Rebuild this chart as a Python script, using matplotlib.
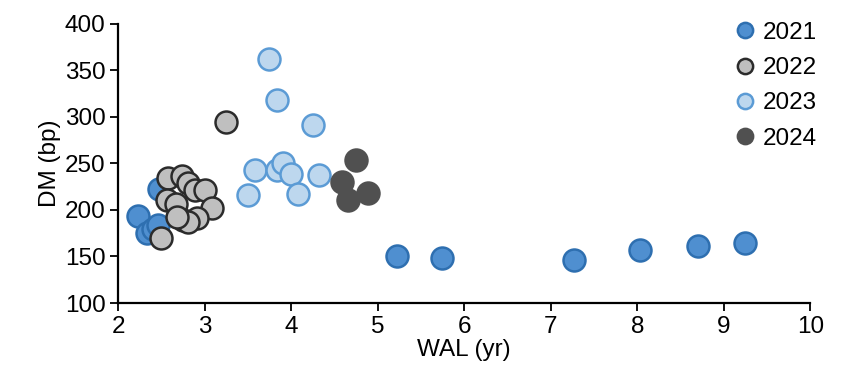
import matplotlib
matplotlib.use("Agg")
import matplotlib.pyplot as plt
from matplotlib.lines import Line2D

plt.rcParams["font.family"] = ["Liberation Sans", "DejaVu Sans"]

# WAL (yr), DM (bp) by vintage
wal_2021 = [2.23, 2.33, 2.40, 2.46, 2.47, 5.22, 5.75, 7.27, 8.03, 8.70, 9.25]
dm_2021  = [194, 175, 180, 184, 222, 151, 148, 146, 157, 161, 164]
wal_2022 = [2.58, 2.74, 2.81, 2.89, 3.00, 2.57, 2.67, 3.09, 2.75, 2.91, 2.81, 2.68, 2.50, 3.25]
dm_2022  = [234, 236, 229, 221, 221, 211, 206, 202, 189, 191, 187, 192, 170, 295]
wal_2023 = [3.75, 3.84, 4.25, 3.58, 3.84, 3.91, 4.00, 3.50, 4.08, 4.32]
dm_2023  = [362, 318, 291, 243, 243, 251, 239, 216, 217, 238]
wal_2024 = [4.75, 4.59, 4.66, 4.89]
dm_2024  = [254, 230, 211, 218]

series = [
    ("2021", wal_2021, dm_2021, "#4f8fd0", "#2e6fb0"),
    ("2022", wal_2022, dm_2022, "#bfbfbf", "#2b2b2b"),
    ("2023", wal_2023, dm_2023, "#bdd7ee", "#5b9bd5"),
    ("2024", wal_2024, dm_2024, "#505050", "#505050"),
]

fig = plt.figure(figsize=(8.52, 3.91), dpi=100)
ax = fig.add_axes([0.1385, 0.225, 0.8125, 0.714])

handles = []
for name, xs, ys, fc, ec in series:
    ax.scatter(xs, ys, s=250, c=fc, edgecolors=ec, linewidths=1.8, zorder=3)
    handles.append(Line2D([], [], marker="o", ls="", markersize=11,
                          markerfacecolor=fc, markeredgecolor=ec, markeredgewidth=1.8, label=name))

ax.set_xlim(2, 10)
ax.set_ylim(100, 400)
ax.set_xticks(range(2, 11))
ax.set_yticks(range(100, 401, 50))
ax.tick_params(labelsize=17.5, width=1.3, length=6, direction="out", pad=3, colors="black")
for s in ["top", "right"]:
    ax.spines[s].set_visible(False)
for s in ["left", "bottom"]:
    ax.spines[s].set_linewidth(1.6)
ax.set_xlabel("WAL (yr)", fontsize=17.5, labelpad=1)
ax.set_ylabel("DM (bp)", fontsize=17.5, labelpad=3)

ax.legend(handles=handles, loc="upper right", bbox_to_anchor=(1.03, 1.06), frameon=False,
          fontsize=17.5, handletextpad=0.15, labelspacing=0.55, borderaxespad=0.2, handlelength=1.1)

fig.savefig("out.png", dpi=100)
